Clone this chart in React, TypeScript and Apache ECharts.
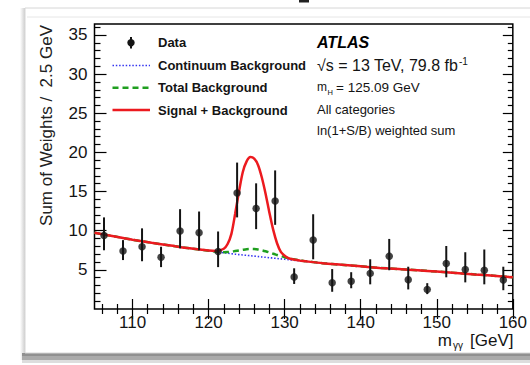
import React, { useEffect, useRef } from "react";
import * as echarts from "echarts";

// ---- Data ----
const dataX = [106.25, 108.75, 111.25, 113.75, 116.25, 118.75, 121.25, 123.75, 126.25, 128.75, 131.25, 133.75, 136.25, 138.75, 141.25, 143.75, 146.25, 148.75, 151.25, 153.75, 156.25, 158.75];
const dataY = [9.4, 7.4, 7.95, 6.6, 9.95, 9.75, 7.35, 14.8, 12.85, 13.8, 4.1, 8.8, 3.35, 3.55, 4.55, 6.75, 3.75, 2.5, 5.8, 5.05, 4.95, 3.7];
const errLo = [7.5, 6.25, 6.1, 5.35, 7.75, 7.5, 5.35, 11.7, 10.2, 10.75, 3.2, 6.35, 2.2, 2.65, 3.15, 4.95, 2.5, 1.9, 4.05, 3.4, 3.15, 2.4];
const errHi = [11.7, 8.8, 10.3, 7.95, 12.75, 12.45, 9.9, 18.7, 16.05, 17.7, 5.2, 12.1, 5.1, 4.7, 6.35, 8.95, 5.4, 3.3, 8.05, 7.25, 7.6, 5.4];

const curveX = [105, 107.5, 110, 112.5, 115, 117.5, 120, 121, 122, 122.5, 123, 123.5, 124, 124.5, 125, 125.5, 126, 126.5, 127, 127.5, 128, 128.5, 129, 129.5, 130, 130.5, 131, 132, 132.5, 135, 137.5, 140, 142.5, 145, 147.5, 150, 152.5, 155, 157.5, 160];
const continuumY = [9.75, 9.3, 8.85, 8.45, 8.1, 7.75, 7.45, 7.3, 7.18, 7.12, 7.06, 7.0, 6.95, 6.9, 6.85, 6.8, 6.75, 6.7, 6.65, 6.6, 6.55, 6.5, 6.45, 6.4, 6.35, 6.3, 6.25, 6.15, 6.1, 5.85, 5.65, 5.45, 5.25, 5.1, 4.95, 4.78, 4.6, 4.42, 4.25, 4.05];
const totalBgY = [9.75, 9.3, 8.85, 8.45, 8.1, 7.75, 7.45, 7.32, 7.25, 7.27, 7.32, 7.4, 7.48, 7.56, 7.63, 7.66, 7.65, 7.6, 7.5, 7.37, 7.22, 7.05, 6.9, 6.75, 6.62, 6.5, 6.4, 6.22, 6.14, 5.85, 5.65, 5.45, 5.25, 5.1, 4.95, 4.78, 4.6, 4.42, 4.25, 4.05];
const sigBgY = [9.75, 9.3, 8.85, 8.45, 8.1, 7.75, 7.47, 7.42, 7.7, 8.3, 9.6, 12.2, 15.0, 17.5, 18.85, 19.4, 19.2, 18.4, 16.8, 14.7, 12.3, 10.1, 8.4, 7.3, 6.8, 6.5, 6.35, 6.18, 6.12, 5.85, 5.65, 5.45, 5.25, 5.1, 4.95, 4.78, 4.6, 4.42, 4.25, 4.05];

const xMajor = [110, 120, 130, 140, 150, 160];
const xMinor = [106, 108, 112, 114, 116, 118, 122, 124, 126, 128, 132, 134, 136, 138, 142, 144, 146, 148, 152, 154, 156, 158];
const yMajor = [5, 10, 15, 20, 25, 30, 35];
const yMinor = [1, 2, 3, 4, 6, 7, 8, 9, 11, 12, 13, 14, 16, 17, 18, 19, 21, 22, 23, 24, 26, 27, 28, 29, 31, 32, 33, 34, 36];

const FONT = "'Liberation Sans', Arial, Helvetica, sans-serif";
const RED = "#ec1a1f";
const GREEN = "#1f9f1f";
const BLUE = "#3535f0";
const INK = "#141414";

function zip(xs: number[], ys: number[]) {
  return xs.map((x, i) => [x, ys[i]]);
}

export default function App() {
  const ref = useRef<HTMLDivElement>(null);
  useEffect(() => {
    if (!ref.current) return;
    const chart = echarts.init(ref.current, undefined, { renderer: "svg" });

    const xBase = { type: "value", min: 105, max: 160, gridIndex: 0, axisLine: { show: false }, splitLine: { show: false } };
    const yBase = { type: "value", min: 0, max: 36.4, gridIndex: 0, axisLine: { show: false }, splitLine: { show: false } };
    const tick = (vals: number[], len: number) => ({ show: true, inside: true, length: len, customValues: vals, lineStyle: { color: "#000", width: 1.2 } });
    const noLabel = { show: false };

    const option: any = {
      animation: false,
      backgroundColor: "#ffffff",
      grid: { left: 94.5, top: 24, width: 419, height: 285, show: true, borderColor: "#000", borderWidth: 1.5, backgroundColor: "transparent", containLabel: false },
      xAxis: [
        { ...xBase, position: "bottom", axisTick: tick(xMajor, 10), axisLabel: { show: true, customValues: xMajor, fontSize: 17, color: INK, fontFamily: FONT, margin: 5 } },
        { ...xBase, position: "bottom", axisTick: tick(xMinor, 5), axisLabel: noLabel },
        { ...xBase, position: "top", axisTick: tick(xMajor, 10), axisLabel: noLabel },
        { ...xBase, position: "top", axisTick: tick(xMinor, 5), axisLabel: noLabel },
      ],
      yAxis: [
        { ...yBase, position: "left", axisTick: tick(yMajor, 12), axisLabel: { show: true, customValues: yMajor, fontSize: 17, color: INK, fontFamily: FONT, margin: 7 } },
        { ...yBase, position: "left", axisTick: tick(yMinor, 6), axisLabel: noLabel },
        { ...yBase, position: "right", axisTick: tick(yMajor, 10), axisLabel: noLabel },
        { ...yBase, position: "right", axisTick: tick(yMinor, 5), axisLabel: noLabel },
      ],
      series: [
        { type: "line", name: "Continuum Background", data: zip(curveX, continuumY), smooth: 0.3, showSymbol: false, lineStyle: { color: BLUE, width: 1.6, type: [1.5, 1.8] }, z: 3 },
        { type: "line", name: "Total Background", data: zip(curveX, totalBgY), smooth: 0.3, showSymbol: false, lineStyle: { color: GREEN, width: 2.5, type: [6, 4] }, z: 4 },
        { type: "line", name: "Signal + Background", data: zip(curveX, sigBgY), smooth: 0.3, showSymbol: false, lineStyle: { color: RED, width: 2.5 }, z: 5 },
        {
          type: "custom",
          name: "Data errors",
          data: dataX.map((x, i) => [x, errLo[i], errHi[i]]),
          encode: { x: 0, y: [1, 2] },
          renderItem: (_p: any, api: any) => {
            const a = api.coord([api.value(0), api.value(1)]);
            const b = api.coord([api.value(0), api.value(2)]);
            return { type: "line", shape: { x1: a[0], y1: a[1], x2: b[0], y2: b[1] }, style: { stroke: INK, lineWidth: 2 } };
          },
          z: 6,
        },
        { type: "scatter", name: "Data", data: zip(dataX, dataY), symbol: "circle", symbolSize: 7.5, itemStyle: { color: INK }, z: 7 },
      ],
      graphic: [
        // page card & shadows
        { type: "rect", z: -10, shape: { x: 20, y: 8, width: 6, height: 352 }, style: { fill: new echarts.graphic.LinearGradient(0, 0, 1, 0, [{ offset: 0, color: "#ffffff" }, { offset: 1, color: "#c4c4c4" }]) } },
        { type: "rect", z: -10, shape: { x: 22, y: 353, width: 508, height: 3 }, style: { fill: "#909090" } },
        { type: "rect", z: -10, shape: { x: 22, y: 356, width: 508, height: 4 }, style: { fill: "#aaaaaa" } },
        { type: "rect", z: -10, shape: { x: 22, y: 360, width: 508, height: 3 }, style: { fill: "#dddddd" } },
        { type: "rect", z: -9, shape: { x: 25, y: 8, width: 510, height: 345 }, style: { fill: "#ffffff", stroke: "#d6d6d6", lineWidth: 1 } },
        { type: "line", z: -8, shape: { x1: 27, y1: 17, x2: 530, y2: 17 }, style: { stroke: "#e6e6e6", lineWidth: 1 } },
        { type: "rect", z: -8, shape: { x: 299, y: 0, width: 10, height: 2.5 }, style: { fill: "#222" } },
        // axis titles
        { type: "text", z: 10, x: 46, y: 25, rotation: Math.PI / 2, style: { text: "Sum of Weights /  2.5 GeV", font: `17px ${FONT}`, fill: "#222", align: "right", verticalAlign: "middle" } },
        { type: "text", z: 10, x: 513.5, y: 340, style: { text: "[GeV]", font: `17px ${FONT}`, fill: INK, align: "right", verticalAlign: "middle" } },
        { type: "text", z: 10, x: 453, y: 345, style: { text: "γγ", font: `10px ${FONT}`, fill: INK, align: "left", verticalAlign: "middle" } },
        { type: "text", z: 10, x: 452, y: 340, style: { text: "m", font: `17px ${FONT}`, fill: INK, align: "right", verticalAlign: "middle" } },
        // legend
        { type: "line", z: 10, shape: { x1: 131, y1: 37, x2: 131, y2: 48.5 }, style: { stroke: INK, lineWidth: 2 } },
        { type: "circle", z: 10, shape: { cx: 131, cy: 42.7, r: 3.7 }, style: { fill: INK } },
        { type: "line", z: 10, shape: { x1: 112.5, y1: 65.5, x2: 150, y2: 65.5 }, style: { stroke: BLUE, lineWidth: 1.6, lineDash: [1.5, 1.8] } },
        { type: "line", z: 10, shape: { x1: 112.5, y1: 87.7, x2: 150, y2: 87.7 }, style: { stroke: GREEN, lineWidth: 2.5, lineDash: [6, 4] } },
        { type: "line", z: 10, shape: { x1: 112.5, y1: 110, x2: 150, y2: 110 }, style: { stroke: RED, lineWidth: 2.5 } },
        { type: "text", z: 10, x: 158, y: 42.7, style: { text: "Data", font: `bold 13px ${FONT}`, fill: INK, verticalAlign: "middle" } },
        { type: "text", z: 10, x: 158, y: 65.5, style: { text: "Continuum Background", font: `bold 13px ${FONT}`, fill: INK, verticalAlign: "middle" } },
        { type: "text", z: 10, x: 158, y: 87.7, style: { text: "Total Background", font: `bold 13px ${FONT}`, fill: INK, verticalAlign: "middle" } },
        { type: "text", z: 10, x: 158, y: 110, style: { text: "Signal + Background", font: `bold 13px ${FONT}`, fill: INK, verticalAlign: "middle" } },
        // ATLAS block
        { type: "text", z: 10, x: 317, y: 42.7, style: { text: "ATLAS", font: `italic bold 16px ${FONT}`, fill: "#000", verticalAlign: "middle" } },
        { type: "text", z: 10, x: 317, y: 65.5, style: { text: "√s = 13 TeV, 79.8 fb", font: `16px ${FONT}`, fill: INK, verticalAlign: "middle" } },
        { type: "text", z: 10, x: 459, y: 61, style: { text: "-1", font: `10px ${FONT}`, fill: INK, verticalAlign: "middle" } },
        { type: "text", z: 10, x: 317, y: 87.2, style: { text: "m", font: `12px ${FONT}`, fill: INK, verticalAlign: "middle" } },
        { type: "text", z: 10, x: 327.5, y: 92, style: { text: "H", font: `7.5px ${FONT}`, fill: INK, verticalAlign: "middle" } },
        { type: "text", z: 10, x: 336, y: 87.7, style: { text: "= 125.09 GeV", font: `13.5px ${FONT}`, fill: INK, verticalAlign: "middle" } },
        { type: "text", z: 10, x: 317, y: 109.5, style: { text: "All categories", font: `13px ${FONT}`, fill: INK, verticalAlign: "middle" } },
        { type: "text", z: 10, x: 317, y: 130.5, style: { text: "ln(1+S/B) weighted sum", font: `13px ${FONT}`, fill: INK, verticalAlign: "middle" } },
      ],
    };
    chart.setOption(option);
    return () => chart.dispose();
  }, []);
  return <div ref={ref} style={{ position: "fixed", left: 0, top: 0, width: 530, height: 365 }} />;
}
